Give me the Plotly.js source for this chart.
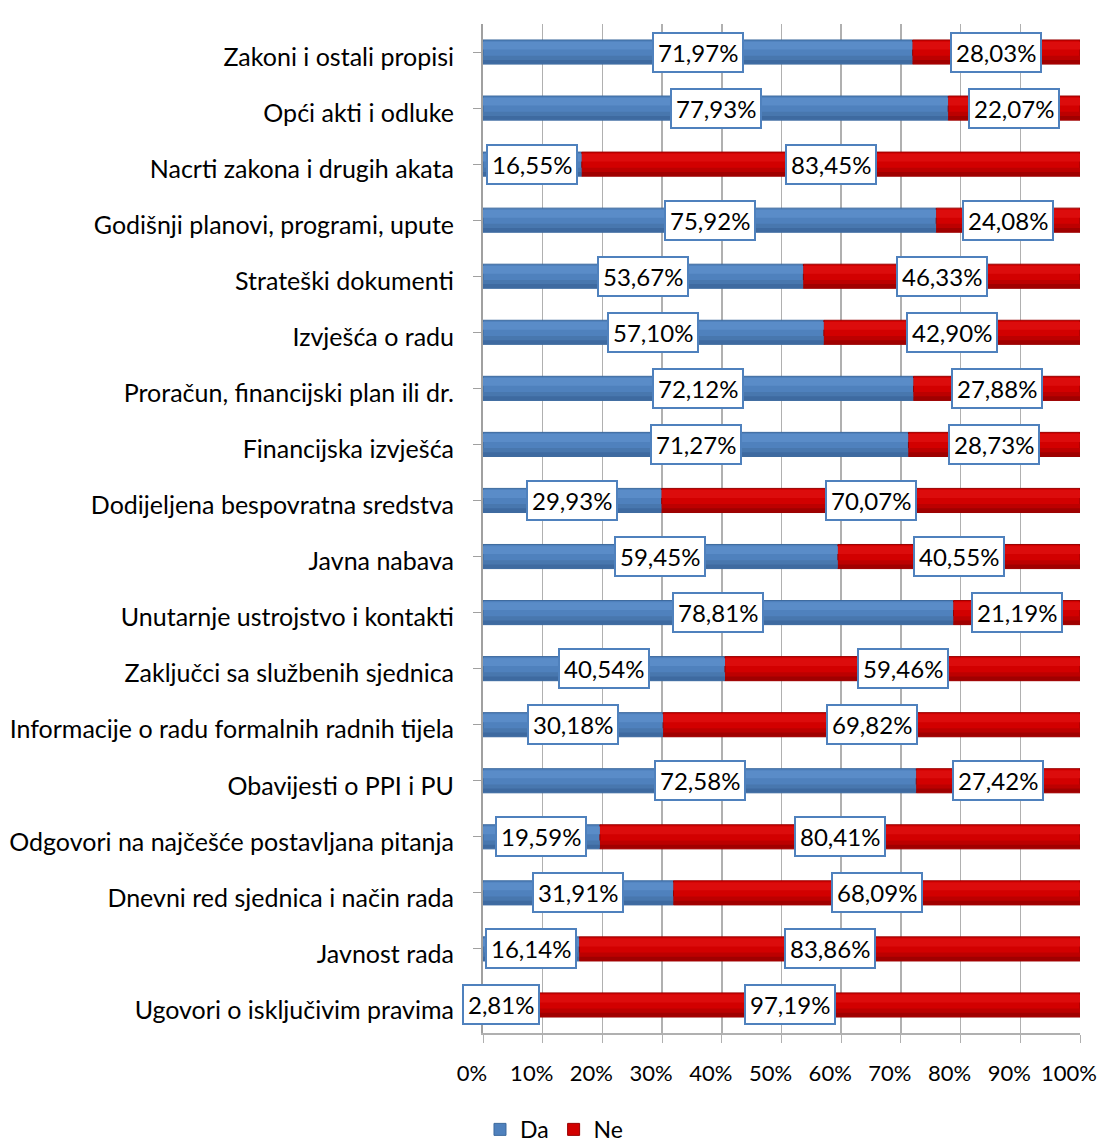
<!DOCTYPE html>
<html>
<head>
<meta charset="utf-8">
<script src="https://cdn.plot.ly/plotly-3.0.1.min.js"></script>
<style>html,body{margin:0;padding:0;background:#fff;}</style>
</head>
<body>
<div id="chart" style="width:1097px;height:1142px;"></div>
<script>
const categories = [
  "Zakoni i ostali propisi",
  "Opći akti i odluke",
  "Nacrti zakona i drugih akata",
  "Godišnji planovi, programi, upute",
  "Strateški dokumenti",
  "Izvješća o radu",
  "Proračun, financijski plan ili dr.",
  "Financijska izvješća",
  "Dodijeljena bespovratna sredstva",
  "Javna nabava",
  "Unutarnje ustrojstvo i kontakti",
  "Zaključci sa službenih sjednica",
  "Informacije o radu formalnih radnih tijela",
  "Obavijesti o PPI i PU",
  "Odgovori na najčešće postavljana pitanja",
  "Dnevni red sjednica i način rada",
  "Javnost rada",
  "Ugovori o isključivim pravima"
];
const da = [71.97, 77.93, 16.55, 75.92, 53.67, 57.10, 72.12, 71.27, 29.93, 59.45, 78.81, 40.54, 30.18, 72.58, 19.59, 31.91, 16.14, 2.81];
const ne = [28.03, 22.07, 83.45, 24.08, 46.33, 42.90, 27.88, 28.73, 70.07, 40.55, 21.19, 59.46, 69.82, 27.42, 80.41, 68.09, 83.86, 97.19];
const xTickVals = [0,10,20,30,40,50,60,70,80,90,100];
const xTickText = ["0%","10%","20%","30%","40%","50%","60%","70%","80%","90%","100%"];

const FONT = "Lato, 'Open Sans', sans-serif";
const fmt = v => v.toFixed(2).replace('.', ',') + '%';

const BW = 0.43;
function bar(name, x, base, color, lineColor, width, offset, legend) {
  return {type:'bar', orientation:'h', name:name, y:categories, x:x, base:base,
    width:width, offset:offset, showlegend:legend, legendgroup:name,
    marker:{color:color, line:{color:lineColor, width:legend?1:0}}, hoverinfo:'skip'};
}
const zeros = da.map(()=>0);
const traces = [
  bar('Da', da, zeros, '#4f81bd', '#3d6a9e', BW, -BW/2, true),
  bar('Ne', ne, da, '#d20000', '#980000', BW, -BW/2, true),
  // cylinder shading
  bar('Da', da, zeros, '#5a8cc8', '#5a8cc8', 0.14, -BW/2+0.03, false),
  bar('Ne', ne, da, '#dc0c0c', '#dc0c0c', 0.14, -BW/2+0.03, false),
  bar('Da', da, zeros, '#4877ae', '#4877ae', 0.09, BW/2-0.15, false),
  bar('Ne', ne, da, '#bc0000', '#bc0000', 0.09, BW/2-0.15, false),
  bar('Da', da, zeros, '#3e6aa0', '#3e6aa0', 0.07, BW/2-0.075, false),
  bar('Ne', ne, da, '#a00000', '#a00000', 0.07, BW/2-0.075, false)
];

const annotations = [];
categories.forEach((c,i)=>{
  let daMid = Math.max(da[i]/2, 3);
  annotations.push({x:daMid, y:c, xref:'x', yref:'y', text:fmt(da[i]), showarrow:false,
    font:{family:FONT, size:24, color:'#000'}, bgcolor:'#fff', bordercolor:'#4f81bd', borderwidth:2, borderpad:4});
  annotations.push({x:da[i]+ne[i]/2, y:c, xref:'x', yref:'y', text:fmt(ne[i]), showarrow:false,
    font:{family:FONT, size:24, color:'#000'}, bgcolor:'#fff', bordercolor:'#4f81bd', borderwidth:2, borderpad:4});
});

const layout = {
  width:1097, height:1142,
  margin:{l:483, r:17, t:24, b:109, autoexpand:false},
  barmode:'overlay',
  paper_bgcolor:'#fff', plot_bgcolor:'#fff',
  font:{family:FONT, size:24, color:'#000'},
  showlegend:true,
  legend:{orientation:'h', xref:'container', yref:'container', x:0.505, xanchor:'center', y:0.011, yanchor:'middle',
          font:{family:FONT, size:23}, traceorder:'normal', itemwidth:30},
  xaxis:{range:[0,100], tickvals:xTickVals, ticktext:xTickText, showgrid:true,
         gridcolor:'#b0b0b0', gridwidth:1.5, zeroline:false, showline:true, linecolor:'#b0b0b0', linewidth:1.5,
         ticks:'outside', ticklen:8, tickcolor:'#b0b0b0', ticklabelstandoff:12, ticklabelshift:-11,
         ticklabeloverflow:'allow',
         tickfont:{family:FONT, size:22}, fixedrange:true},
  yaxis:{type:'category', autorange:'reversed', showline:true, linecolor:'#a0a0a0', linewidth:2,
         ticks:'outside', ticklen:8, tickcolor:'#a0a0a0', ticklabelstandoff:14, ticklabelshift:-5,
         tickfont:{family:FONT, size:25}, showgrid:false, fixedrange:true},
  annotations:annotations
};

Plotly.newPlot('chart', traces, layout, {displayModeBar:false, staticPlot:true});
</script>
</body>
</html>
